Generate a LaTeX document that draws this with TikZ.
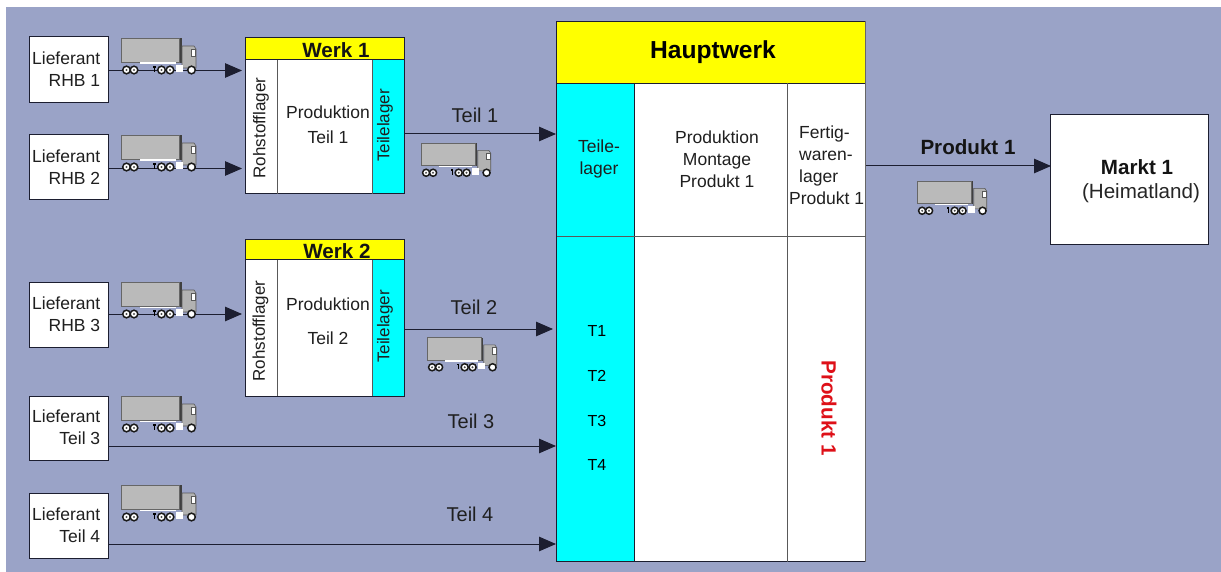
\documentclass[tikz,border=0pt]{standalone}
\usepackage{fontspec}
\setmainfont{Liberation Sans}
\usepackage{xcolor}
\usetikzlibrary{calc,arrows.meta}

\definecolor{grund}{RGB}{154,163,199}
\definecolor{strich}{RGB}{28,30,48}
\definecolor{produktrot}{RGB}{222,16,24}
\definecolor{lagercyan}{RGB}{0,255,255}
\definecolor{kopfgelb}{RGB}{255,255,0}

\tikzset{
	truck/.pic={
		\fill[black!27] (0,0) rectangle (58,24);
		\draw[black!80,line width=1.2pt] (0,0.4) -- (58,0.4);
		\draw[black!60,line width=0.6pt] (0,0) rectangle (58,24);
		\fill[black!75] (59,0) rectangle (60.6,25);
		\fill[black!30,draw=black!65,line width=0.6pt] (61,8) -- (73,8) -- (75,11) -- (75,30) -- (61,30) -- cycle;
		\fill[white,draw=black!65,line width=0.5pt] (70,11) rectangle (74.5,18);
		\fill[white] (19,24.5) rectangle (55,26);
		\fill[white] (55,27) rectangle (62,34);
		\fill[black] (32,28) rectangle (34.5,30);
		\fill[black] (32.8,28) rectangle (33.8,34);
		\foreach \r in {5.5,13,40.5,49,70.5}
		\draw[black!90,line width=1.5pt,fill=white] (\r,32) circle (3.8);
		\foreach \r in {5.5,13,40.5,49}
		\fill[black!70] (\r,32) circle (1.2);
	}
}

\begin{document}
\begin{tikzpicture}[
		x=1pt,y=-1pt,
		rahmen/.style={draw=strich,line width=1pt},
		teiler/.style={draw=black!65,line width=1pt},
		box/.style={rectangle,draw=strich,fill=white,line width=1pt,anchor=north west,inner sep=0pt,outer sep=0pt,minimum width=79.5pt},
		schrift/.style={font=\fontsize{17.5}{22}\selectfont,inner sep=0pt,text=black!88},
		quer/.style={font=\fontsize{17}{20}\selectfont,inner sep=0pt,text=black!88,rotate=90},
		gross/.style={font=\fontsize{20}{24}\selectfont,inner sep=0pt,text=black!88},
		titel/.style={font=\fontsize{20.6}{24}\selectfont\bfseries,inner sep=0pt,text=black!92},
		flow/.style={-{Triangle[length=17pt,width=14.5pt]},draw=strich,line width=1pt}]
	\useasboundingbox (0,0) rectangle (1221,572);
	\fill[grund] (6,7) rectangle (1221,572);

	% Lieferanten
	\node[box,minimum height=66pt] (lrhb1) at (29,37) {};
	\node[box,minimum height=65pt] (lrhb2) at (29,135) {};
	\node[box,minimum height=65pt] (lrhb3) at (29,282) {};
	\node[box,minimum height=64pt] (lteil3) at (29,396) {};
	\node[box,minimum height=65pt] (lteil4) at (29,493) {};
	\foreach \n/\y/\t in {a/69.5/RHB 1,b/167.5/RHB 2,c/314.5/RHB 3,d/427.5/Teil 3,e/525/Teil 4}
	\node[schrift,align=right] (txt\n) at (66.2,\y) {Lieferant\\\t};

	% Werk 1
	\fill[white] (245.5,37.5) rectangle (404,194);
	\fill[lagercyan] (372.5,60) rectangle (404,194);
	\fill[kopfgelb] (245.5,37.5) rectangle (404,60);
	\draw[rahmen] (245.5,37.5) rectangle (404,194);
	\draw[rahmen] (245.5,60) -- (404,60);
	\draw[teiler] (277.5,60) -- (277.5,194);
	\draw[teiler] (372.5,60) -- (372.5,194);
	\node[titel] (werk1) at (336,50) {Werk 1};
	\node[quer] (roh1) at (261,128) {Rohstofflager};
	\node[quer] (lag1) at (385,125.5) {Teilelager};
	\node[schrift,align=center] (prod1) at (328,124.5) {Produktion\\[3pt]Teil 1};

	% Werk 2
	\fill[white] (245.5,240) rectangle (404,396);
	\fill[lagercyan] (372.5,260) rectangle (404,396);
	\fill[kopfgelb] (245.5,240) rectangle (404,260);
	\draw[rahmen] (245.5,240) rectangle (404,396);
	\draw[rahmen] (245.5,260) -- (404,260);
	\draw[teiler] (277.5,260) -- (277.5,396);
	\draw[teiler] (372.5,260) -- (372.5,396);
	\node[titel] (werk2) at (337,251) {Werk 2};
	\node[quer] (roh2) at (260.5,331) {Rohstofflager};
	\node[quer] (lag2) at (385,326.5) {Teilelager};
	\node[schrift,align=center] (prod2) at (328,321) {Produktion\\[12pt]Teil 2};

	% Hauptwerk
	\fill[white] (556.5,21.5) rectangle (865.5,561.5);
	\fill[lagercyan] (556.5,83.5) rectangle (634.5,561.5);
	\fill[kopfgelb] (556.5,21.5) rectangle (865.5,83.5);
	\draw[rahmen] (556.5,21.5) -- (865.5,21.5);
	\draw[rahmen] (556.5,83.5) -- (865.5,83.5);
	\draw[rahmen] (556.5,21.5) -- (556.5,561.5) -- (865.5,561.5);
	\draw[draw=black!60,line width=1.2pt] (865.5,21.5) -- (865.5,561.5);
	\draw[rahmen] (634.5,83.5) -- (634.5,561.5);
	\draw[teiler] (787.5,83.5) -- (787.5,561.5);
	\draw[teiler] (556.5,236.5) -- (865.5,236.5);
	\node[font=\fontsize{24.6}{28}\selectfont\bfseries,inner sep=0pt] (hauptwerk) at (713,52) {Hauptwerk};
	\node[schrift,align=center] (lagerhw) at (599,159) {Teile-\\lager};
	\node[schrift,align=center] (montage) at (717,159) {Produktion\\Montage\\Produkt 1};
	\node[schrift,align=left,anchor=west] (fertig) at (789,165) {\hspace*{10pt}Fertig-\\\hspace*{10pt}waren-\\\hspace*{10pt}lager\\Produkt 1};
	\foreach \n/\y in {1/331,2/375.5,3/420.5,4/464.5}
	\node[font=\fontsize{16}{18}\selectfont,inner sep=0pt] (t\n) at (597,\y) {T\n};
	\node[titel,rotate=-90,text=produktrot] (prodrot) at (829,408) {Produkt 1};

	% Markt
	\node[box,minimum width=158.5pt,minimum height=130.5pt] (markt) at (1050,114.5) {};
	\node[titel] (markt1) at (1137,167) {Markt 1};
	\node[font=\fontsize{20.6}{24}\selectfont,inner sep=0pt,text=black!85] (heimat) at (1141,193) {(Heimatland)};

	% Ein- und Ausgaenge
	\coordinate (inw1) at (245.5,70.5);
	\coordinate (inw2) at (245.5,168.5);
	\coordinate (inw3) at (245.5,314);
	\coordinate (ina) at (556,134);
	\coordinate (inb) at (553,329);
	\coordinate (inc) at (556,446);
	\coordinate (ind) at (556,544);
	\coordinate (inm) at (1051,166);
	\coordinate (outa) at (404,134);
	\coordinate (outb) at (404,329);
	\coordinate (outhw) at (866,166);
	\draw[flow,shorten >=3.5pt] (lrhb1.east |- inw1) -- (inw1);
	\draw[flow,shorten >=3.5pt] (lrhb2.east |- inw2) -- (inw2);
	\draw[flow,shorten >=3.5pt] (lrhb3.east |- inw3) -- (inw3);
	\draw[flow] (outa) -- (ina);
	\draw[flow] (outb) -- (inb);
	\draw[flow] (lteil3.east |- inc) -- (inc);
	\draw[flow] (lteil4.east |- ind) -- (ind);
	\draw[flow] (outhw) -- (inm);

	\node[gross] (teil1) at (475,115) {Teil 1};
	\node[gross] (teil2) at (474,307) {Teil 2};
	\node[gross] (teil3) at (471,421) {Teil 3};
	\node[gross] (teil4) at (470,514) {Teil 4};
	\node[titel] (produkt) at (968,147) {Produkt 1};

	% LKW
	\foreach \x/\y in {121/38,121/135,121/282,121/396,121/485}
	\pic at (\x,\y) {truck};
	\foreach \x/\y in {421/143,427/337.5,917/181}
	\pic[scale=0.93] at (\x,\y) {truck};
\end{tikzpicture}
\end{document}
